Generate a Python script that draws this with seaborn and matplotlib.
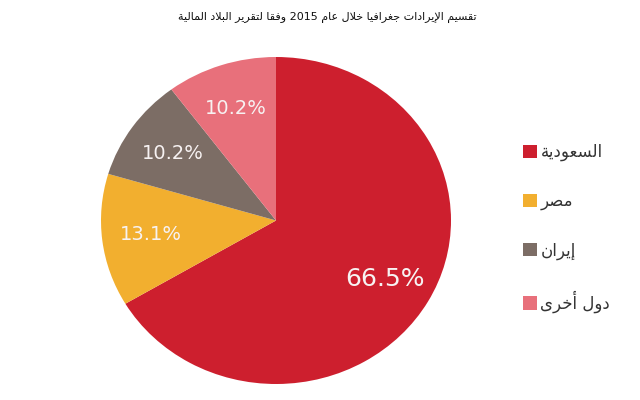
import re
import matplotlib
matplotlib.use("Agg")
import matplotlib.pyplot as plt
from matplotlib.patches import Patch
import seaborn as sns

# ---- data ----
title = "تقسيم الإيرادات جغرافيا خلال عام 2015 وفقا لتقرير البلاد المالية"
countries = ["السعودية", "مصر", "إيران", "دول أخرى"]
shares = [66.5, 13.1, 10.2, 10.2]
colors = ["#CD1F2E", "#F2AF2F", "#7C6D65", "#E8707B"]

# ---- minimal Arabic shaping (contextual forms + visual order) ----
FORMS = {
    '\u0627': (0xFE8D, 0xFE8E, None, None),
    '\u0623': (0xFE83, 0xFE84, None, None),
    '\u0625': (0xFE87, 0xFE88, None, None),
    '\u0628': (0xFE8F, 0xFE90, 0xFE91, 0xFE92),
    '\u0629': (0xFE93, 0xFE94, None, None),
    '\u062A': (0xFE95, 0xFE96, 0xFE97, 0xFE98),
    '\u062C': (0xFE9D, 0xFE9E, 0xFE9F, 0xFEA0),
    '\u062E': (0xFEA5, 0xFEA6, 0xFEA7, 0xFEA8),
    '\u062F': (0xFEA9, 0xFEAA, None, None),
    '\u0631': (0xFEAD, 0xFEAE, None, None),
    '\u0633': (0xFEB1, 0xFEB2, 0xFEB3, 0xFEB4),
    '\u0635': (0xFEB9, 0xFEBA, 0xFEBB, 0xFEBC),
    '\u0639': (0xFEC9, 0xFECA, 0xFECB, 0xFECC),
    '\u063A': (0xFECD, 0xFECE, 0xFECF, 0xFED0),
    '\u0641': (0xFED1, 0xFED2, 0xFED3, 0xFED4),
    '\u0642': (0xFED5, 0xFED6, 0xFED7, 0xFED8),
    '\u0644': (0xFEDD, 0xFEDE, 0xFEDF, 0xFEE0),
    '\u0645': (0xFEE1, 0xFEE2, 0xFEE3, 0xFEE4),
    '\u0646': (0xFEE5, 0xFEE6, 0xFEE7, 0xFEE8),
    '\u0647': (0xFEE9, 0xFEEA, 0xFEEB, 0xFEEC),
    '\u0648': (0xFEED, 0xFEEE, None, None),
    '\u0649': (0xFEEF, 0xFEF0, None, None),
    '\u064A': (0xFEF1, 0xFEF2, 0xFEF3, 0xFEF4),
}
LAM_ALEF = {
    '\u0627': (0xFEFB, 0xFEFC),
    '\u0623': (0xFEF7, 0xFEF8),
    '\u0625': (0xFEF9, 0xFEFA),
    '\u0622': (0xFEF5, 0xFEF6),
}


def shape_ar(s):
    out = []
    prev_joins = False
    i, n = 0, len(s)
    while i < n:
        c = s[i]
        if c in FORMS:
            if c == '\u0644' and i + 1 < n and s[i + 1] in LAM_ALEF:
                iso, fin = LAM_ALEF[s[i + 1]]
                out.append(chr(fin if prev_joins else iso))
                prev_joins = False
                i += 2
                continue
            iso, fin, ini, med = FORMS[c]
            nxt = s[i + 1] if i + 1 < n else None
            joins_next = ini is not None and nxt in FORMS
            if prev_joins and joins_next:
                f = med
            elif prev_joins:
                f = fin
            elif joins_next:
                f = ini
            else:
                f = iso
            out.append(chr(f))
            prev_joins = ini is not None
        else:
            out.append(c)
            prev_joins = False
        i += 1
    shaped = ''.join(out)
    tokens = re.findall(r'[0-9A-Za-z]+|[^0-9A-Za-z]+', shaped)
    return ''.join(t if re.match(r'[0-9A-Za-z]', t) else t[::-1]
                   for t in reversed(tokens))


sns.set_theme(style="white")
plt.rcParams['font.family'] = ['DejaVu Sans']

W, H = 640, 400
fig = plt.figure(figsize=(6.4, 4.0), dpi=100)
fig.patch.set_facecolor("white")

palette = sns.color_palette(colors)

ax = fig.add_axes([101 / W, 16 / H, 350 / W, 327 / H])
wedges, texts, autotexts = ax.pie(
    shares, colors=palette, startangle=90, counterclock=False,
    autopct='%.1f%%', pctdistance=0.72,
    wedgeprops=dict(linewidth=0),
    textprops=dict(color="#F7F2F2", family=['DejaVu Sans'], fontsize=14),
)
autotexts[0].set_fontsize(18)
ax.set_aspect('auto')
ax.set_xlim(-1, 1)
ax.set_ylim(-1, 1)

fig.text(327 / W, 1 - 17 / H, shape_ar(title), ha='center', va='center',
         fontsize=8, color="#111111", family=['DejaVu Sans'])

handles = [Patch(facecolor=c, edgecolor='none') for c in palette]
fig.legend(handles, [shape_ar(c) for c in countries],
           loc='upper left', bbox_to_anchor=(508 / W, 1 - 128 / H),
           frameon=False, fontsize=12, handlelength=0.85, handleheight=0.85,
           handletextpad=0.2, labelspacing=1.85, labelcolor="#333333")

fig.savefig("out.png", dpi=100, facecolor="white")
